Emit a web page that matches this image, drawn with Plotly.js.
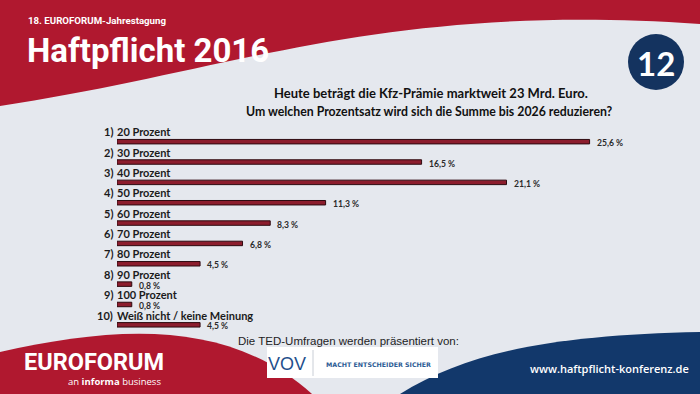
<!DOCTYPE html>
<html>
<head>
<meta charset="utf-8">
<script src="https://cdn.plot.ly/plotly-3.0.1.min.js"></script>
<style>html,body{margin:0;padding:0;background:#e5e8ee;}#chart{width:700px;height:394px;}</style>
</head>
<body>
<div id="chart"></div>
<script>
// ---- data ----
const categories = ["20 Prozent","30 Prozent","40 Prozent","50 Prozent","60 Prozent","70 Prozent","80 Prozent","90 Prozent","100 Prozent","Weiß nicht / keine Meinung"];
const values = [25.6, 16.5, 21.1, 11.3, 8.3, 6.8, 4.5, 0.8, 0.8, 4.5];
const questionLines = ["Heute beträgt die Kfz-Prämie marktweit 23 Mrd. Euro.", "Um welchen Prozentsatz wird sich die Summe bis 2026 reduzieren?"];
const slideNumber = "12";

// ---- helpers (pixel -> paper) ----
const W = 700, H = 394;
const px = x => x / W;
const py = y => 1 - y / H;
function pathPx(cmds) {
  return cmds.map(c => c[0] + ' ' + c.slice(1).reduce((a, v, i) => {
    a.push(i % 2 === 0 ? px(v).toFixed(5) : py(v).toFixed(5)); return a;
  }, []).join(',')).join(' ') + ' Z';
}
const fmt = v => v.toFixed(1).replace('.', ',') + ' %';

const labelFont = {family: 'Lato, "Open Sans", sans-serif', size: 11, color: '#1b1b1b', weight: 700};
const valueFont = {family: 'Lato, "Open Sans", sans-serif', size: 8.6, color: '#2a2a2a', weight: 700};

const annotations = [];
categories.forEach((c, i) => {
  annotations.push({xref: 'x', yref: 'y', x: 0, y: c, text: (i + 1) + ')', showarrow: false, borderpad: 0,
    xanchor: 'right', yanchor: 'middle', xshift: -3, yshift: 9.8, font: labelFont});
  annotations.push({xref: 'x', yref: 'y', x: 0, y: c, text: c, showarrow: false, borderpad: 0,
    xanchor: 'left', yanchor: 'middle', xshift: -1, yshift: 9.8, font: labelFont});
  annotations.push({xref: 'x', yref: 'y', x: values[i], y: c, text: fmt(values[i]), showarrow: false, borderpad: 0,
    xanchor: 'left', yanchor: 'middle', xshift: 6, yshift: -1.5, font: valueFont});
});

// slide texts
const white = '#ffffff';
annotations.push(
  {xref:'paper', yref:'paper', x:px(27), y:py(20), text:'18. EUROFORUM-Jahrestagung', showarrow:false, xanchor:'left', yanchor:'middle', borderpad:0,
   font:{family:'Roboto, sans-serif', size:9.7, color:white, weight:700}},
  {xref:'paper', yref:'paper', x:px(26), y:py(50), text:'Haftpflicht 2016', showarrow:false, xanchor:'left', yanchor:'middle', borderpad:0,
   font:{family:'Roboto, sans-serif', size:33, color:white, weight:700}},
  {xref:'paper', yref:'paper', x:px(656), y:py(63), text:slideNumber, showarrow:false, xanchor:'center', yanchor:'middle',
   font:{family:'Lato, sans-serif', size:33, color:white, weight:700}},
  {xref:'paper', yref:'paper', x:px(431), y:py(93), text:questionLines[0], showarrow:false, xanchor:'center', yanchor:'middle',
   font:{family:'Lato, sans-serif', size:13, color:'#111', weight:700}},
  {xref:'paper', yref:'paper', x:px(429), y:py(112), text:questionLines[1], showarrow:false, xanchor:'center', yanchor:'middle',
   font:{family:'Lato, sans-serif', size:12.3, color:'#111', weight:700}},
  {xref:'paper', yref:'paper', x:px(348), y:py(341), text:'Die TED-Umfragen werden präsentiert von:', showarrow:false, xanchor:'center', yanchor:'middle',
   font:{family:'"Liberation Sans", Arial, sans-serif', size:11.5, color:'#1e1e1e'}},
  {xref:'paper', yref:'paper', x:px(287), y:py(364), text:'VOV', showarrow:false, xanchor:'center', yanchor:'middle',
   font:{family:'"Liberation Sans", Arial, sans-serif', size:18, color:'#1f4f8c'}},
  {xref:'paper', yref:'paper', x:px(378.5), y:py(364), text:'MACHT ENTSCHEIDER SICHER', showarrow:false, xanchor:'center', yanchor:'middle',
   font:{family:'"DejaVu Sans", sans-serif', size:6.3, color:'#2c5b94', weight:700}},
  {xref:'paper', yref:'paper', x:px(94), y:py(362), text:'EUROFORUM', showarrow:false, xanchor:'center', yanchor:'middle',
   font:{family:'Roboto, sans-serif', size:23.5, color:white, weight:700}},
  {xref:'paper', yref:'paper', x:px(162), y:py(381), text:'an <b>informa</b> business', showarrow:false, xanchor:'right', yanchor:'middle', borderpad:0,
   font:{family:'"Open Sans", sans-serif', size:9.5, color:white}},
  {xref:'paper', yref:'paper', x:px(609), y:py(368), text:'www.haftpflicht-konferenz.de', showarrow:false, xanchor:'center', yanchor:'middle',
   font:{family:'"Open Sans", sans-serif', size:11, color:white, weight:600}}
);

const shapes = [
  {type:'path', xref:'paper', yref:'paper', layer:'below', line:{width:0}, fillcolor:'#b0182f',
   path: pathPx([['M',0,0],['L',0,106],['C',230,72,380,2,700,24],['L',700,0]])},
  {type:'path', xref:'paper', yref:'paper', layer:'below', line:{width:0}, fillcolor:'#b0182f',
   path: pathPx([['M',0,394],['L',0,352],['C',120,325,230,320,312,394]])},
  {type:'path', xref:'paper', yref:'paper', layer:'below', line:{width:0}, fillcolor:'#12386b',
   path: pathPx([['M',400,394],['C',470,350,560,335,700,332],['L',700,394]])},
  {type:'circle', xref:'paper', yref:'paper', layer:'below', line:{width:0}, fillcolor:'#14335f',
   x0:px(628), x1:px(684), y0:py(90), y1:py(34)},
  {type:'rect', xref:'paper', yref:'paper', layer:'below', line:{width:0}, fillcolor:'#ffffff',
   x0:px(267), x1:px(438), y0:py(378), y1:py(347)},
  {type:'line', xref:'paper', yref:'paper', layer:'below', line:{width:1, color:'#c9ced6'},
   x0:px(313), x1:px(313), y0:py(376), y1:py(350)}
];

const trace = {
  type: 'bar', orientation: 'h', x: values, y: categories,
  width: 0.22,
  marker: {color: '#8c1d2d', line: {color: '#2e0a10', width: 1}},
  hoverinfo: 'none'
};

const layout = {
  width: W, height: H,
  margin: {l: 0, r: 0, t: 0, b: 0},
  paper_bgcolor: '#e5e8ee', plot_bgcolor: 'rgba(0,0,0,0)',
  showlegend: false,
  xaxis: {domain: [117 / W, 670.8 / W], range: [0, 30], visible: false, fixedrange: true},
  yaxis: {domain: [1 - 335 / H, 1 - 131.5 / H], type: 'category', categoryarray: categories,
          range: [9.5, -0.5], visible: false, fixedrange: true},
  shapes: shapes,
  annotations: annotations
};

Plotly.newPlot('chart', [trace], layout, {displayModeBar: false, staticPlot: true});
</script>
</body>
</html>
